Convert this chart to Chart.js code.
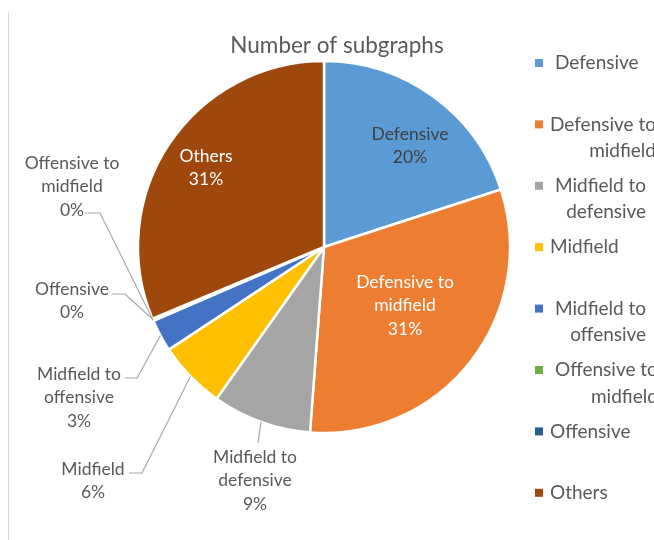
<!DOCTYPE html>
<html><head><meta charset="utf-8">
<script src="https://cdn.jsdelivr.net/npm/chart.js@4.4.1/dist/chart.umd.min.js"></script>
<style>html,body{margin:0;padding:0;background:#fff;overflow:hidden}canvas{display:block}</style>
</head><body>
<canvas id="c" width="654" height="540"></canvas>
<script>
const chartTitle = 'Number of subgraphs';
const categories = ['Defensive', 'Defensive to midfield', 'Midfield to defensive', 'Midfield',
  'Midfield to offensive', 'Offensive to midfield', 'Offensive', 'Others'];
const values = [20.0, 31.2, 8.6, 5.9, 2.8, 0.1, 0.1, 31.3];

const colors = ['#5B9BD5', '#ED7D31', '#A5A5A5', '#FFC000', '#4472C4', '#70AD47', '#255E91', '#9E480E'];
const FONT = 'Lato, "Open Sans", sans-serif';
const TEXT = '#595959';

// label placement (text centre x, first-line y) and leader elbows
const labelLayout = [
  {x: 410, y: 134, color: '#404040'},
  {x: 405, y: 282, color: '#ffffff'},
  {x: 255, y: 457, color: TEXT, path: [[258, 443]]},
  {x: 93, y: 469, color: TEXT, path: [[142, 473], [129, 473]]},
  {x: 79, y: 374, color: TEXT, path: [[137, 378], [125, 378]]},
  {x: 72, y: 163, color: TEXT, path: [[100, 213], [85, 213]]},
  {x: 72, y: 289, color: TEXT, path: [[125, 294], [112, 294]]},
  {x: 206, y: 156, color: '#ffffff'}
];
const legendIndent = [5, 0, 5, 0, 5, 5, 0, 0];

function wrap(ctx, text, maxW) {
  const words = text.split(' ');
  const lines = [];
  let cur = '';
  for (const w of words) {
    const t = cur ? cur + ' ' + w : w;
    if (cur && ctx.measureText(t).width > maxW) { lines.push(cur); cur = w; }
    else cur = t;
  }
  if (cur) lines.push(cur);
  return lines;
}

const decor = {
  id: 'decor',
  afterDatasetsDraw(chart) {
    const ctx = chart.ctx;
    const meta = chart.getDatasetMeta(0);
    const total = values.reduce((a, b) => a + b, 0);
    ctx.save();
    // frame edge
    ctx.strokeStyle = '#d9d9d9';
    ctx.lineWidth = 1;
    ctx.beginPath(); ctx.moveTo(8.5, 12); ctx.lineTo(8.5, 540); ctx.stroke();
    // title
    ctx.fillStyle = TEXT;
    ctx.font = '22.5px ' + FONT;
    ctx.textAlign = 'center'; ctx.textBaseline = 'middle';
    ctx.fillText(chartTitle, 337, 46);

    // data labels
    ctx.font = '17.5px ' + FONT;
    meta.data.forEach((arc, i) => {
      const L = labelLayout[i];
      const mid = (arc.startAngle + arc.endAngle) / 2;
      const px = arc.x + Math.cos(mid) * arc.outerRadius;
      const py = arc.y + Math.sin(mid) * arc.outerRadius;
      if (L.path) {
        ctx.strokeStyle = '#a6a6a6';
        ctx.lineWidth = 1.2;
        ctx.beginPath(); ctx.moveTo(px, py);
        L.path.forEach(p => ctx.lineTo(p[0], p[1]));
        ctx.stroke();
      }
      const lines = wrap(ctx, categories[i], 100);
      lines.push(Math.round(values[i] / total * 100) + '%');
      ctx.fillStyle = L.color;
      ctx.textAlign = 'center';
      lines.forEach((ln, k) => ctx.fillText(ln, L.x, L.y + k * 23.5));
    });

    // legend
    ctx.font = '19px ' + FONT;
    categories.forEach((c, i) => {
      const y = 63 + i * 61.4;
      ctx.fillStyle = colors[i];
      ctx.fillRect(535, y - 4, 8, 8);
      ctx.fillStyle = TEXT;
      const lines = wrap(ctx, c, 125);
      const x0 = 550 + legendIndent[i];
      const w0 = ctx.measureText(lines[0]).width;
      ctx.textAlign = 'left';
      ctx.fillText(lines[0], x0, y);
      ctx.textAlign = 'right';
      for (let k = 1; k < lines.length; k++) ctx.fillText(lines[k], x0 + w0, y + k * 26.5);
    });
    ctx.restore();
  }
};

new Chart(document.getElementById('c'), {
  type: 'pie',
  data: {
    labels: categories,
    datasets: [{
      data: values,
      backgroundColor: colors,
      borderColor: '#ffffff',
      borderWidth: 2.5,
      radius: 186
    }]
  },
  options: {
    responsive: false,
    animation: false,
    layout: {padding: {left: 137, right: 143, top: 60, bottom: 106}},
    plugins: {legend: {display: false}, title: {display: false}, tooltip: {enabled: false}}
  },
  plugins: [decor]
});
</script>
</body></html>
